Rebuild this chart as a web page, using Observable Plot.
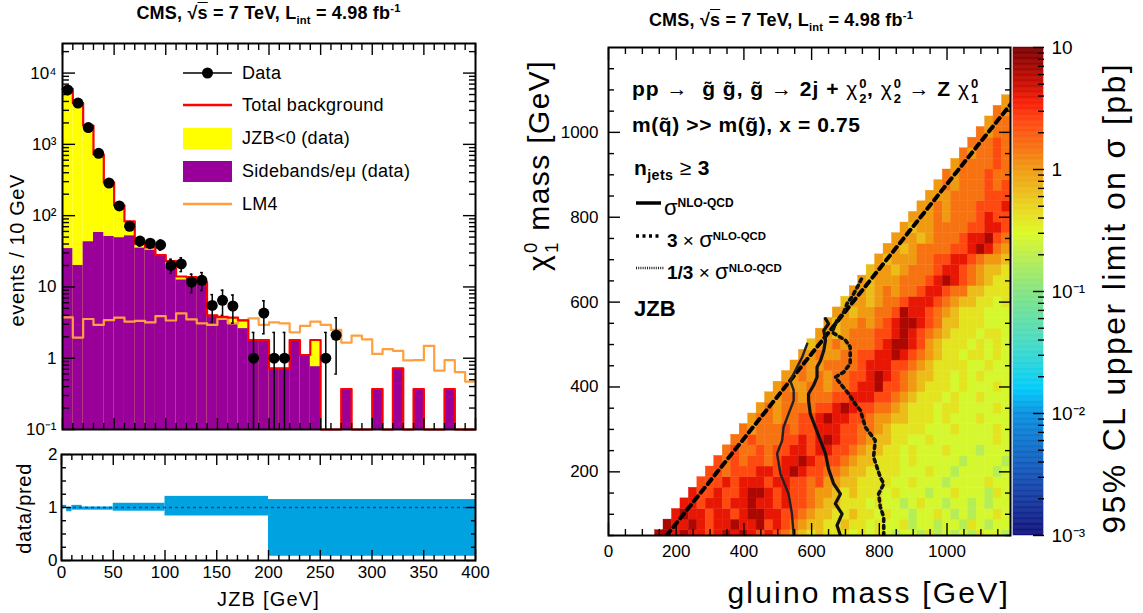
<!DOCTYPE html>
<html>
<head>
<meta charset="utf-8">
<script src="https://cdn.jsdelivr.net/npm/d3@7"></script>
<script src="https://cdn.jsdelivr.net/npm/@observablehq/plot@0.6"></script>
<style>
html,body{margin:0;padding:0;background:#fff;}
#root{position:relative;width:1143px;height:613px;overflow:hidden;font-family:"Liberation Sans",Arial,Helvetica,sans-serif;color:#000;background:#fff;}
.abs{position:absolute;white-space:nowrap;line-height:1;}
.abs svg{display:block;max-width:none;}
.b{font-weight:bold;}
.ss{position:relative;display:inline-block;width:0.42em;height:0;}
.ss .up{position:absolute;left:1px;top:-1.45em;font-size:0.62em;line-height:1;}
.ss .dn{position:absolute;left:1px;top:-0.3em;font-size:0.62em;line-height:1;}
sup,sub{font-size:0.62em;line-height:0;}
.rotend{transform-origin:0 0;transform:rotate(-90deg);text-align:right;}
.n{font-weight:normal;}
</style>
</head>
<body>
<div id="root">
  <!-- left panel texts -->
  <div class="abs b" style="left:0;width:537px;text-align:center;top:4px;font-size:18px;letter-spacing:0.2px">CMS, √<span style="text-decoration:overline">s</span> = 7 TeV, L<sub>int</sub> = 4.98 fb<sup>-1</sup></div>
  <div class="abs rotend" style="left:7px;top:554px;width:380px;font-size:20px;letter-spacing:0.6px">events / 10 GeV</div>
  <div class="abs rotend" style="left:14px;top:663px;width:200px;font-size:20px;letter-spacing:0.7px">data/pred</div>
  <div class="abs" style="left:0;width:537px;text-align:center;top:589px;font-size:20px;letter-spacing:1.2px">JZB [GeV]</div>

  <!-- left legend -->
  <div class="abs" style="left:180px;top:62px"><svg width="56" height="22"><line x1="3" x2="52" y1="11" y2="11" stroke="#000" stroke-width="1.5"/><circle cx="27.5" cy="11" r="5.5" fill="#000"/></svg></div>
  <div class="abs" style="left:242px;top:64px;font-size:18px;letter-spacing:0.3px">Data</div>
  <div class="abs" style="left:180px;top:94px"><svg width="56" height="22"><line x1="3" x2="52" y1="11" y2="11" stroke="#ff0000" stroke-width="2.5"/></svg></div>
  <div class="abs" style="left:242px;top:96px;font-size:18px;letter-spacing:0.3px">Total background</div>
  <div class="abs" style="left:183px;top:128px"><svg width="49" height="21"><rect x="0" y="0" width="49" height="21" fill="#ffff00"/></svg></div>
  <div class="abs" style="left:242px;top:129px;font-size:18px;letter-spacing:0.3px">JZB&lt;0 (data)</div>
  <div class="abs" style="left:183px;top:161px"><svg width="49" height="21"><rect x="0" y="0" width="49" height="21" fill="#990099"/></svg></div>
  <div class="abs" style="left:242px;top:162px;font-size:18px;letter-spacing:0.3px">Sidebands/eμ (data)</div>
  <div class="abs" style="left:180px;top:193px"><svg width="56" height="22"><line x1="3" x2="52" y1="11" y2="11" stroke="#ffa040" stroke-width="2.5"/></svg></div>
  <div class="abs" style="left:242px;top:195px;font-size:18px;letter-spacing:0.3px">LM4</div>

  <!-- right panel texts -->
  <div class="abs b" style="left:580px;width:402px;text-align:center;top:11px;font-size:18px;letter-spacing:0.2px">CMS, √<span style="text-decoration:overline">s</span> = 7 TeV, L<sub>int</sub> = 4.98 fb<sup>-1</sup></div>
  <div class="abs b" style="left:632px;top:78px;font-size:21px;letter-spacing:1px">pp → &nbsp;g&#771; g&#771;, g&#771; → 2j + <span class="n">χ</span><span class="ss"><span class="up">0</span><span class="dn">2</span></span>, <span class="n">χ</span><span class="ss"><span class="up">0</span><span class="dn">2</span></span> → Z <span class="n">χ</span><span class="ss"><span class="up">0</span><span class="dn">1</span></span></div>
  <div class="abs b" style="left:632px;top:114px;font-size:21px;letter-spacing:0.6px">m(q&#771;) &gt;&gt; m(g&#771;), x = 0.75</div>
  <div class="abs b" style="left:634px;top:157px;font-size:21px;letter-spacing:0.4px">n<sub style="font-size:0.68em">jets</sub> <span class="n">≥</span> 3</div>
  <div class="abs" style="left:634px;top:196px"><svg width="30" height="14"><line x1="2" x2="27" y1="7" y2="7" stroke="#000" stroke-width="3.5"/></svg></div>
  <div class="abs b" style="left:664px;top:197px;font-size:20px"><span class="n" style="font-size:22px">σ</span><sup style="font-size:0.6em">NLO-QCD</sup></div>
  <div class="abs" style="left:634px;top:229px"><svg width="30" height="14"><line x1="2" x2="27" y1="7" y2="7" stroke="#000" stroke-width="3.5" stroke-dasharray="3,3.5"/></svg></div>
  <div class="abs b" style="left:667px;top:229px;font-size:19px">3 <span class="n">×</span> <span class="n" style="font-size:22px">σ</span><sup style="font-size:0.6em">NLO-QCD</sup></div>
  <div class="abs" style="left:634px;top:261px"><svg width="32" height="14"><line x1="2" x2="30" y1="7" y2="7" stroke="#222" stroke-width="2.5" stroke-dasharray="1,1.2"/></svg></div>
  <div class="abs b" style="left:667px;top:261px;font-size:19px">1/3 <span class="n">×</span> <span class="n" style="font-size:22px">σ</span><sup style="font-size:0.6em">NLO-QCD</sup></div>
  <div class="abs b" style="left:634px;top:298px;font-size:22px">JZB</div>
  <div class="abs" style="left:600px;width:410px;text-align:right;top:578px;font-size:30px;letter-spacing:2.2px">gluino mass [GeV]</div>
  <div class="abs rotend" style="left:524px;top:460px;width:400px;font-size:30px;letter-spacing:1.4px">χ<span class="ss" style="width:0.45em"><span class="up">0</span><span class="dn">1</span></span> mass [GeV]</div>
  <div class="abs rotend" style="left:1098px;top:562px;width:500px;font-size:32px;letter-spacing:2.4px">95% CL upper limit on σ [pb]</div>
</div>

<script>
// ---------------- DATA: left panel (JZB distribution) ----------------
const jzbBinLow = [0,10,20,30,40,50,60,70,80,90,100,110,120,130,140,150,160,170,180,190,
                   200,210,220,230,240,250,260,270,280,290,300,310,320,330,340,350,360,370,380,390];
// Total background (JZB<0 + sidebands), events / 10 GeV
const totalBkg = [6000,3800,1830,720,292,139,83,40,36,28,23,14,13.7,11.7,4.0,3.8,3.7,3.4,1.8,1.8,
                  0.72,0.72,1.8,1.11,1.8,0,0,0.37,0,0,0.37,0,0.72,0,0.37,0,0,0.37,0,0];
// Sidebands / e-mu contribution
const sidebands = [34.5,20,43,58,51,49,52,35,32.7,27,19,12.5,13.6,11.7,4.0,3.8,3.0,2.6,1.8,1.8,
                   0.72,0.72,1.8,1.11,0.76,0,0,0.37,0,0,0.37,0,0.72,0,0.37,0,0,0.37,0,0];
// LM4 signal
const lm4 = [3.74,1.95,3.55,2.93,3.43,3.7,3.26,3.33,3.18,3.9,3.38,4.26,3.5,3.09,2.93,3.55,3.09,3.43,3.62,2.93,
             3.18,3.09,2.31,2.84,3.26,2.93,2.49,1.66,2.08,1.84,1.15,1.34,1.27,0.93,0.94,1.49,0.67,0.94,0.64,0.47];
// Data points
const dataX  = [5,15,25,35,45,55,65,75,85,95,105,115,125,135,145,155,165,185,195,205,215,255,265];
const dataY  = [5800,3800,1720,750,287,137,71,44,41,39,20,21,11.7,12.4,5.5,6.5,5.4,1,4.3,1,1,1,2.1];
const dataLo = [5724,3738,1679,723,270,125,63,37.5,34.8,32.8,15.5,16.4,8.3,8.9,3.2,4.0,3.1,0,2.2,0,0,0,0.6];
const dataHi = [5876,3862,1761,777,304,149,79,50.5,47.4,45.2,24.5,25.6,15.1,15.9,7.8,9.0,7.7,2.3,6.4,2.3,2.3,2.3,3.7];
// Ratio panel uncertainty band
const ratioEdges = [0,5,10,20,50,100,200,400];
const ratioLo = [0.99,0.92,0.95,0.95,0.93,0.84,0.08];
const ratioHi = [1.04,1.00,1.04,1.01,1.08,1.21,1.15];
const jzbTicks = [0,50,100,150,200,250,300,350,400];
const eventTicks = [0.1,1,10,100,1000,10000];
const ratioTicks = [0,1,2];

// ---------------- DATA: right panel (limit scan) ----------------
const chi1Rows = [50,75,100,125,150,175,200,225,250,275,300,325,350,375,400,425,450,475,500,525,
                  550,575,600,625,650,675,700,725,750,775,800,825,850,875,900,925,950,975,1000,1025,1050,1075];
// colour level of each cell, row by row; first cell at gluino = chi1 + 100 GeV, step 25 GeV
const rowLevels = [
 "998988789898787654343332323212213121213221",
 "98898788988978765443343323223122122132122",
 "8988788789988776544334332322122321212232",
 "887887889887877654433323221232212212122",
 "87787789987877655434333232221223222132",
 "7778788878877675544333322322212222322",
 "776777887898776654433332223221222212",
 "76767767889877765443332322222122221",
 "6766767788788776544332322232221222",
 "667666778789877654433223222222232",
 "65666767788877665433332223222232",
 "5665667789887765544333232223222",
 "565666677898776654333233222232",
 "55665666778887765433323223222",
 "5655665667889776543332322232",
 "556565667789876544332323222",
 "56556666788877654333322322",
 "5565566778898765433233232",
 "455656667899875433323232",
 "55456667789876543332332",
 "5455656789987644333222",
 "554556679887654333222",
 "45545667888765443323",
 "5545656678876644333",
 "545556667898765433",
 "45545666788765443",
 "5455566778876554",
 "554566667789865",
 "55545666788976",
 "5455666677887",
 "555656667877",
 "55656667778",
 "5556666777",
 "565666767",
 "65666766",
 "5666676",
 "656676",
 "66676",
 "6566",
 "566",
 "65",
 "5"
];
// limit value (pb) of each colour level 0..9
const levelValue = [0.12,0.18,0.27,0.4,0.65,1.0,1.5,2.4,4.0,6.5];
// Exclusion contours (gluino, chi1) in GeV
const solidG = [685,675,690,670,685,665,650,641,626,611,596,591,591,606,616,616,626,636,641,636,650,641];
const solidC = [50,74,101,125,148,172,207,243,274,305,337,368,384,404,423,447,462,486,510,533,549,561];
const threeG = [813,813,803,798,813,803,783,788,773,759,744,729,709,685,670,695,714,714,700,660,675,695,705,719,739,748];
const threeC = [50,93,117,148,172,187,235,274,290,305,345,360,384,408,423,435,455,494,510,529,557,576,597,612,641,656];
const thirdG = [547,542,532,508,498,513,517,532,547,547,537,557,572,587];
const thirdC = [50,101,148,195,243,274,305,337,368,392,415,447,470,502];
const diagG = [171.6,1187.5];
const diagC = [50,1065.9];
const gluinoTicks = [0,200,400,600,800,1000];
const chi1Ticks = [200,400,600,800,1000];
const limitTicks = [0.001,0.01,0.1,1,10];
// colour palette of the z axis (value -> colour)
const paletteStops  = [0.001,0.003,0.01,0.016,0.035,0.1,0.22,0.3,0.5,1,1.6,2.5,3.5,5,10];
const paletteColors = ["#12127a","#1550b4","#0a90e0","#00ccfa","#40dac8","#84e482","#c4f044","#dcfa22","#ead21e","#f09a12","#f86c10","#ff4610","#f81e06","#cc0c00","#780000"];

// ---------------- helpers ----------------
const FONT = "Liberation Sans, Arial, Helvetica, sans-serif";
const SUP = {"-":"⁻","0":"⁰","1":"¹","2":"²","3":"³","4":"⁴","5":"⁵","6":"⁶","7":"⁷","8":"⁸","9":"⁹"};
function pow10(d){const e=Math.round(Math.log10(d)); if(e===0) return "1"; if(e===1) return "10"; return "10"+String(e).split("").map(c=>SUP[c]).join("");}
function logMinor(lo,hi,max){const out=[]; for(let e=lo;e<hi;e++) for(let m=2;m<=9;m++){const v=+(m*Math.pow(10,e)).toPrecision(6); if(v<=max) out.push(v);} return out;}
function rangeStep(a,b,s){const o=[]; for(let v=a; v<=b+1e-9; v+=s) o.push(v); return o;}
const plain = d => String(d);
// inward ticks: draw outward ticks shifted inside by their length
function tX(anchor, values, len){return Plot.axisX({anchor, ticks: values, tickSize: len, dy: anchor === "bottom" ? -len : len, fill: "none", strokeWidth: 1.4, label: null});}
function tY(anchor, values, len){return Plot.axisY({anchor, ticks: values, tickSize: len, dx: anchor === "left" ? len : -len, fill: "none", strokeWidth: 1.4, label: null});}
function labX(values, pad, fmt){return Plot.axisX({anchor: "bottom", ticks: values, tickSize: 0, tickPadding: pad, tickFormat: fmt, label: null});}
function labY(anchor, values, pad, fmt){return Plot.axisY({anchor, ticks: values, tickSize: 0, tickPadding: pad, tickFormat: fmt, label: null});}
const root = document.getElementById("root");
function place(node,left,top){const d=document.createElement("div"); d.className="abs"; d.style.left=left+"px"; d.style.top=top+"px"; d.appendChild(node); root.insertBefore(d, root.firstChild);}
const baseStyle = {fontFamily: FONT, fontSize: "17px", background: "transparent", color: "#000", overflow: "visible"};
const colorSpec = {type: "log", domain: paletteStops, range: paletteColors, legend: false};

// ---------------- left top panel ----------------
const yMin = 0.1, yMax = 2.6e4;
const bins = jzbBinLow.map((x,i)=>({x1:x, x2:x+10, total: totalBkg[i], side: sidebands[i]}));
const steps = arr => [...jzbBinLow.map((x,i)=>({x, y: Math.max(arr[i], yMin)})), {x: 400, y: Math.max(arr[arr.length-1], yMin)}];
const pts = dataX.map((x,i)=>({x, y: dataY[i], lo: Math.max(dataLo[i], yMin), hi: dataHi[i]}));
const minorJzb = rangeStep(0,400,10).filter(v=>v%50!==0);
const minorEv = logMinor(-1,5,yMax);
const topPlot = Plot.plot({
  width: 480, height: 440, marginLeft: 62, marginRight: 5, marginTop: 43, marginBottom: 11,
  x: {domain: [0,400]},
  y: {type: "log", domain: [yMin, yMax]},
  style: baseStyle,
  marks: [
    Plot.rect(bins.filter(d=>d.total>0), {x1:"x1", x2:"x2", y1: yMin, y2:"total", fill:"#ffff00"}),
    Plot.rect(bins.filter(d=>d.side>0), {x1:"x1", x2:"x2", y1: yMin, y2:"side", fill:"#990099"}),
    Plot.line(steps(lm4), {x:"x", y:"y", curve:"step-after", stroke:"#ffa040", strokeWidth:2.2}),
    Plot.line(steps(totalBkg), {x:"x", y:"y", curve:"step-after", stroke:"#ff0000", strokeWidth:2.2}),
    Plot.ruleX(pts, {x:"x", y1:"lo", y2:"hi", stroke:"#000", strokeWidth:1.5}),
    Plot.ruleY(pts, {y:"hi", x1: d=>d.x-1.3, x2: d=>d.x+1.3, stroke:"#000", strokeWidth:1.5}),
    Plot.ruleY(pts.filter(d=>d.lo>yMin), {y:"lo", x1: d=>d.x-1.3, x2: d=>d.x+1.3, stroke:"#000", strokeWidth:1.5}),
    Plot.dot(pts, {x:"x", y:"y", r:5.5, fill:"#000", stroke:"none"}),
    tX("bottom", jzbTicks, 11), tX("bottom", minorJzb, 6),
    tX("top", jzbTicks, 11), tX("top", minorJzb, 6),
    tY("left", eventTicks, 13), tY("left", minorEv, 7),
    tY("right", eventTicks, 13), tY("right", minorEv, 7),
    labY("left", eventTicks, 6, pow10),
    Plot.frame({stroke:"#000", strokeWidth:2})
  ]
});
place(topPlot, 0, 0);

// ---------------- ratio panel ----------------
const bands = ratioLo.map((lo,i)=>({x1: ratioEdges[i], x2: ratioEdges[i+1], lo, hi: ratioHi[i]}));
const minorR = [0.25,0.5,0.75,1.25,1.5,1.75];
const ratioPlot = Plot.plot({
  width: 480, height: 173, marginLeft: 61, marginRight: 5, marginTop: 14, marginBottom: 53,
  x: {domain: [0,400]},
  y: {domain: [0,2]},
  style: baseStyle,
  marks: [
    Plot.rect(bands, {x1:"x1", x2:"x2", y1:"lo", y2:"hi", fill:"#00a3e0"}),
    Plot.ruleY([1], {stroke:"#1c36c8", strokeWidth:1.6, strokeDasharray:"3,3"}),
    tX("bottom", jzbTicks, 10), tX("bottom", minorJzb, 5),
    tX("top", jzbTicks, 10), tX("top", minorJzb, 5),
    tY("left", ratioTicks, 10), tY("left", minorR, 5),
    tY("right", ratioTicks, 10), tY("right", minorR, 5),
    labX(jzbTicks, 5, plain),
    labY("left", ratioTicks, 4, plain),
    Plot.frame({stroke:"#000", strokeWidth:2})
  ]
});
place(ratioPlot, 0, 440);

// ---------------- right heatmap panel ----------------
const cells = [];
chi1Rows.forEach((c, r) => {
  const s = rowLevels[r];
  for (let i = 0; i < s.length; i++) {
    const g = c + 100 + 25*i;
    if (g > 1175) break;
    cells.push({g, c, v: levelValue[+s[i]]});
  }
});
const toPts = (G, C) => G.map((g,i)=>({g, c: C[i]}));
const minorG = rangeStep(0,1150,50).filter(v=>v%200!==0);
const minorC = rangeStep(50,1200,50).filter(v=>v%200!==0);
const hm = Plot.plot({
  width: 475, height: 613, marginLeft: 68, marginRight: 5, marginTop: 47, marginBottom: 78,
  x: {domain: [0,1187.5]},
  y: {domain: [50,1200]},
  color: colorSpec,
  style: baseStyle,
  marks: [
    Plot.rect(cells, {x1: d=>d.g-12.5, x2: d=>d.g+12.5, y1: d=>d.c-12.5, y2: d=>d.c+12.5, fill:"v", stroke:"v", strokeWidth:0.4, clip:true}),
    Plot.line(toPts(diagG, diagC), {x:"g", y:"c", stroke:"#000", strokeWidth:4, strokeDasharray:"6,5", clip:true}),
    Plot.line(toPts(thirdG, thirdC), {x:"g", y:"c", stroke:"#222", strokeWidth:2.5, strokeDasharray:"1,1.2", clip:true}),
    Plot.line(toPts(solidG, solidC), {x:"g", y:"c", stroke:"#111", strokeWidth:3.2, clip:true}),
    Plot.line(toPts(threeG, threeC), {x:"g", y:"c", stroke:"#111", strokeWidth:3.6, strokeDasharray:"3,4", clip:true}),
    tX("bottom", gluinoTicks, 12), tX("bottom", minorG, 6),
    tX("top", gluinoTicks, 12), tX("top", minorG, 6),
    tY("left", chi1Ticks, 12), tY("left", minorC, 6),
    tY("right", chi1Ticks, 12), tY("right", minorC, 6),
    labX(gluinoTicks, 9, plain),
    labY("left", chi1Ticks, 10, plain),
    Plot.frame({stroke:"#000", strokeWidth:2})
  ]
});
place(hm, 540, 0);

// ---------------- colour bar ----------------
const cbSteps = [];
for (let i = 0; i < 400; i++) cbSteps.push({y1: Math.pow(10, -3 + i/100), y2: Math.pow(10, -3 + (i+1)/100), v: Math.pow(10, -3 + (i+0.5)/100)});
const cb = Plot.plot({
  width: 100, height: 613, marginLeft: 13, marginRight: 57, marginTop: 47, marginBottom: 78,
  x: {domain: [0,1], axis: null},
  y: {type: "log", domain: [0.001, 10]},
  color: colorSpec,
  style: {...baseStyle, fontSize: "19px"},
  marks: [
    Plot.rect(cbSteps, {x1: 0, x2: 1, y1: "y1", y2: "y2", fill: "v", stroke: "v", strokeWidth: 0.5}),
    tY("right", limitTicks, 11), tY("right", logMinor(-3,1,10), 6),
    labY("right", limitTicks, 8, pow10)
  ]
});
place(cb, 1000, 0);
</script>
</body>
</html>
